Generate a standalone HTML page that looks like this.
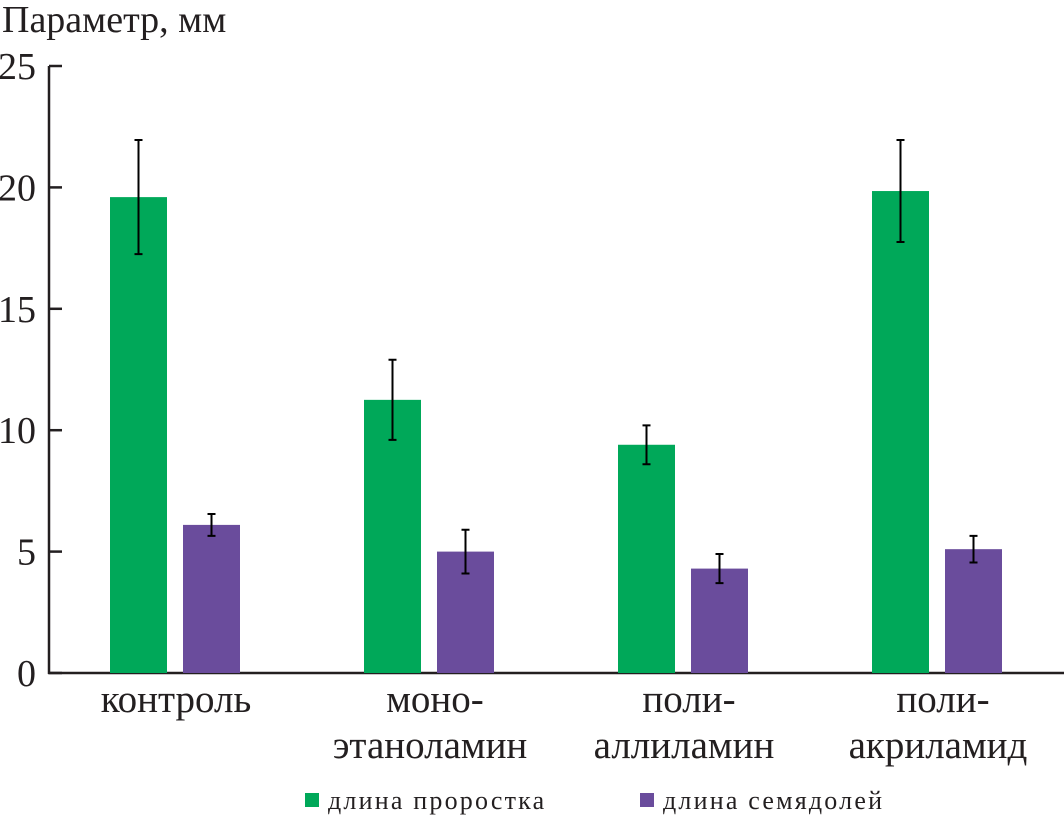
<!DOCTYPE html>
<html><head><meta charset="utf-8"><style>
body{margin:0;background:#fff}
svg text{font-family:"Liberation Serif",serif;fill:#231f20}
</style></head><body>
<svg id="c" width="1064" height="818">
<text x="2" y="32" font-size="38">Параметр, мм</text>
</svg>
<script>
const categories=[["контроль"],["моно-","этаноламин"],["поли-","аллиламин"],["поли-","акриламид"]];
const seedlingLen=[19.6,11.25,9.4,19.85];
const seedlingErr=[2.35,1.65,0.8,2.1];
const cotyledonLen=[6.1,5.0,4.3,5.1];
const cotyledonErr=[0.45,0.9,0.6,0.55];
const yTicks=[0,5,10,15,20,25];
const seriesNames=["длина проростка","длина семядолей"];
const colors=["#00a859","#6a4c9c"];
const svg=document.getElementById('c');
const NS='http://www.w3.org/2000/svg';
const y0=673,yTop=66,yMax=25;
const y=v=>y0-(y0-yTop)*v/yMax;
const gx=i=>110+i*254;
function el(t,a){const e=document.createElementNS(NS,t);for(const k in a)e.setAttribute(k,a[k]);svg.appendChild(e);return e;}
let ax=el('line',{x1:49,y1:yTop,x2:49,y2:y0+1,stroke:'#231f20','stroke-width':2.5});


let xax=el('line',{x1:48,y1:y0,x2:1064,y2:y0,stroke:'#231f20','stroke-width':2.5});


yTicks.forEach(t=>{
 let l=el('line',{x1:49,y1:y(t),x2:62,y2:y(t),stroke:'#231f20','stroke-width':2.5});
 
 
 let tx=el('text',{x:36,y:y(t)+13,'font-size':38,'text-anchor':'end'});tx.textContent=t;
 
 
});
[[seedlingLen,seedlingErr,0],[cotyledonLen,cotyledonErr,1]].forEach(([vals,errs,s])=>{
 vals.forEach((v,i)=>{
  const x=gx(i)+s*73,w=57;
  let r=el('rect',{x:x,y:y(v),width:w,height:y0-y(v),fill:colors[s]});
  
  
  const cx=x+w/2,e=errs[i];
  let eb=el('path',{d:`M${cx},${y(v+e)}V${y(v-e)}M${cx-4},${y(v+e)}h8M${cx-4},${y(v-e)}h8`,stroke:'#000','stroke-width':2,fill:'none'});
  
  
 });
});
categories.forEach((lines,i)=>{
 const cx=gx(i)+66;
 lines.forEach((ln,j)=>{
  let t=el('text',{x:cx+(lines.length>1&&j==0?5:0),y:712+j*46,'font-size':39,'text-anchor':'middle'});t.textContent=ln;
  
  
 });
});
[305,640].forEach((lx,s)=>{
 let r=el('rect',{x:lx,y:793,width:14,height:14,fill:colors[s]});
 
 
 let t=el('text',{x:lx+23,y:809,'font-size':26,'letter-spacing':2.2});t.textContent=seriesNames[s];
 
 
});
</script>
</body></html>
